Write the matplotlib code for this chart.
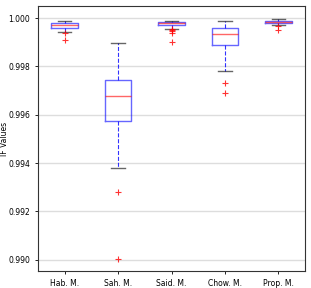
"""
IF value distributions per method, box plot.
"""
import matplotlib
matplotlib.use("Agg")
import matplotlib.pyplot as plt

methods = ["Hab. M.", "Sah. M.", "Said. M.", "Chow. M.", "Prop. M."]
medians = [0.99971, 0.99677, 0.99978, 0.99934, 0.99982]
q1 = [0.99961, 0.99574, 0.99972, 0.99887, 0.99978]
q3 = [0.99978, 0.99743, 0.99982, 0.99959, 0.99988]
whisker_lo = [0.99941, 0.99378, 0.99956, 0.99782, 0.99970]
whisker_hi = [0.99990, 0.99898, 0.99989, 0.99988, 0.99996]
fliers = [
    [0.99937, 0.99909],
    [0.99280, 0.99002],
    [0.99953, 0.99950, 0.99948, 0.99937, 0.99902],
    [0.99731, 0.99692],
    [0.99967, 0.99949],
]

stats = []
for i, name in enumerate(methods):
    stats.append({
        "label": name,
        "med": medians[i],
        "q1": q1[i],
        "q3": q3[i],
        "whislo": whisker_lo[i],
        "whishi": whisker_hi[i],
        "fliers": fliers[i],
    })

fig = plt.figure(figsize=(3.11, 2.88), dpi=100)
ax = fig.add_axes([0.122, 0.059, 0.859, 0.92])

ax.bxp(
    stats,
    widths=0.5,
    boxprops=dict(color="blue", linewidth=1.0, alpha=0.6),
    whiskerprops=dict(color="blue", linestyle="--", linewidth=0.8, alpha=0.8),
    capprops=dict(color="black", linewidth=1.0, alpha=0.6),
    medianprops=dict(color="red", linewidth=1.0, alpha=0.6),
    flierprops=dict(marker="+", markeredgecolor="red", markersize=4, markeredgewidth=0.8, alpha=0.8),
)

ax.set_ylim(0.98953, 1.0005)
ax.set_yticks([0.990, 0.992, 0.994, 0.996, 0.998, 1.000])
ax.yaxis.grid(True, color="#dddddd", linewidth=1.0)
ax.set_axisbelow(True)
ax.tick_params(labelsize=5.5, length=2, width=0.6)
ax.set_ylabel("IF Values", fontsize=5.5)
ax.yaxis.set_label_coords(-0.108, 0.5)
for s in ax.spines.values():
    s.set_linewidth(0.8)
    s.set_color("#333333")

fig.savefig("out.png", dpi=100)
